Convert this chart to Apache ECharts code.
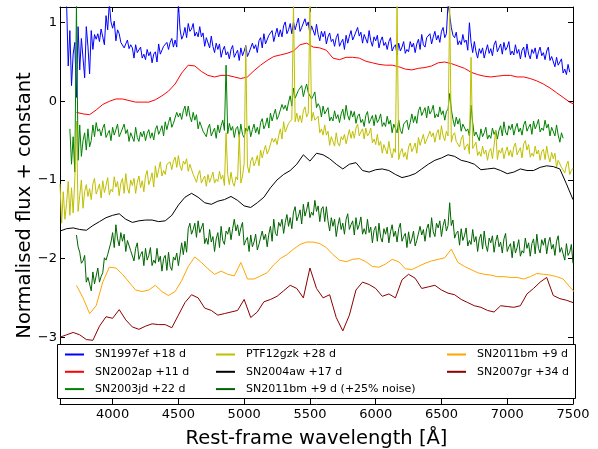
<!DOCTYPE html>
<html><head><meta charset="utf-8">
<script src="https://cdn.jsdelivr.net/npm/echarts@6/dist/echarts.min.js"></script>
<style>html,body{margin:0;padding:0;background:#fff}#c{width:598px;height:449px}</style>
</head><body><div id="c"></div>
<script>
// ---- axis ticks ----
const xTicks = [4000, 4500, 5000, 5500, 6000, 6500, 7000, 7500];
const yTicks = [-3, -2, -1, 0, 1];

// ---- series names ----
const names = ['SN1997ef +18 d', 'SN2002ap +11 d', 'SN2003jd +22 d', 'PTF12gzk +28 d',
  'SN2004aw +17 d', 'SN2011bm +9 d (+25% noise)', 'SN2011bm +9 d', 'SN2007gr +34 d'];

// ---- sampling of each spectrum: first wavelength (Å) and step (Å) ----
const blueStart = 3650, greenStart = 3675, yellowStart = 3600, dgreenStart = 3725; // fine step
const redStart = 3725, blackStart = 3600, orangeStart = 3725, dredStart = 3600;    // coarse step
const fineStep = 12.5, coarseStep = 50;

// ---- flux values (16 values = 200 Å per row for fine spectra) ----
const sn1997ef = [
 1.25, 0.45, 0.9, 0.2, 0.6, 0.75, 0.05, 0.95, 0.4, 0.8, 0.55, 0.3, 0.95, 0.7, 0.35, 0.9,
 0.66, 0.85, 0.79, 0.86, 0.76, 0.92, 0.91, 0.72, 1.09, 0.91, 1.25, 1.01, 0.93, 1.02, 0.77, 0.91,
 0.86, 0.75, 0.77, 0.68, 0.73, 0.78, 0.67, 0.72, 0.68, 0.55, 0.72, 0.62, 0.62, 0.69, 0.55, 0.6,
 0.53, 0.66, 0.58, 0.63, 0.49, 0.6, 0.63, 0.5, 0.73, 0.6, 0.58, 0.7, 0.68, 0.75, 0.66, 0.75,
 0.8, 0.69, 0.78, 0.69, 1.25, 0.92, 0.79, 0.84, 0.94, 0.81, 0.99, 0.89, 0.92, 0.99, 0.83, 0.88,
 0.82, 0.95, 0.82, 0.87, 0.7, 0.81, 0.81, 0.68, 0.83, 0.7, 0.62, 0.74, 0.66, 0.73, 0.56, 0.65,
 0.7, 0.59, 0.63, 0.54, 0.66, 0.71, 0.56, 0.61, 0.65, 0.52, 0.68, 0.58, 0.64, 0.71, 0.57, 0.62,
 0.61, 0.74, 0.67, 0.72, 0.62, 0.77, 0.81, 0.68, 0.86, 0.73, 0.72, 0.84, 0.83, 0.9, 0.76, 0.85,
 0.93, 0.82, 0.91, 0.82, 0.96, 1.01, 0.86, 0.91, 0.99, 0.86, 1.01, 0.91, 0.99, 1.06, 0.89, 0.94,
 0.92, 1.05, 0.96, 1.01, 0.85, 0.96, 0.97, 0.84, 0.98, 0.85, 0.77, 0.89, 0.82, 0.89, 0.73, 0.82,
 0.87, 0.76, 0.79, 0.7, 0.81, 0.86, 0.7, 0.75, 0.79, 0.66, 0.84, 0.74, 0.83, 0.9, 0.78, 0.83,
 0.81, 0.94, 0.83, 0.88, 0.74, 0.85, 0.87, 0.74, 0.9, 0.77, 0.7, 0.82, 0.77, 0.84, 0.68, 0.77,
 0.82, 0.71, 0.75, 0.66, 0.76, 0.81, 0.64, 0.69, 0.72, 0.59, 0.74, 0.64, 0.69, 0.76, 0.61, 0.66,
 0.63, 0.76, 0.69, 0.74, 0.62, 0.73, 0.79, 0.66, 0.85, 0.72, 0.69, 0.81, 0.79, 0.86, 0.73, 0.82,
 0.89, 0.78, 0.84, 0.75, 0.89, 0.94, 0.81, 0.86, 1.25, 1.25, 0.94, 0.84, 0.81, 0.88, 0.72, 0.77,
 0.72, 0.85, 0.75, 0.78, 0.65, 1.0, 0.75, 0.62, 0.76, 0.63, 0.55, 0.67, 0.61, 0.68, 0.55, 0.64,
 0.72, 0.61, 0.67, 0.58, 0.72, 0.77, 0.63, 0.68, 0.73, 0.6, 0.75, 0.65, 0.69, 0.76, 0.59, 0.64,
 0.59, 0.72, 0.61, 0.66, 0.54, 0.65, 0.69, 0.56, 0.73, 0.6, 0.54, 0.66, 0.61, 0.68, 0.54, 0.63,
 0.69, 0.58, 0.62, 0.53, 0.64, 0.69, 0.52, 0.57, 0.57, 0.44, 0.56, 0.46, 0.47, 0.54, 0.36, 0.41,
 0.34, 0.47, 0.37];

const sn2002ap = [
 -0.14, -0.16, -0.17, -0.11, -0.04, 0.0, 0.03, 0.03,
 0.01, -0.01, -0.01, -0.01, 0.02, 0.07, 0.13, 0.22,
 0.36, 0.46, 0.45, 0.38, 0.33, 0.31, 0.33, 0.33,
 0.31, 0.29, 0.31, 0.39, 0.46, 0.52, 0.57, 0.59,
 0.61, 0.64, 0.72, 0.74, 0.69, 0.68, 0.65, 0.55,
 0.53, 0.56, 0.56, 0.55, 0.51, 0.49, 0.47, 0.46,
 0.46, 0.44, 0.41, 0.4, 0.42, 0.43, 0.45, 0.49,
 0.5, 0.48, 0.45, 0.42, 0.37, 0.34, 0.32, 0.31,
 0.32, 0.33, 0.33, 0.31, 0.31, 0.29, 0.26, 0.22,
 0.17, 0.11, 0.05, -0.01, -0.05];

const sn2003jd = [
 -0.35, -0.8, -0.45, -0.9, 1.25, -0.75, -0.3, -0.7, -0.5, -0.4, -0.62, -0.35, -0.58, -0.5, -0.3, -0.45,
 -0.27, -0.38, -0.35, -0.44, -0.34, -0.29, -0.46, -0.41, -0.37, -0.5, -0.33, -0.43, -0.36, -0.29, -0.45, -0.4,
 -0.42, -0.29, -0.41, -0.36, -0.51, -0.4, -0.38, -0.51, -0.33, -0.46, -0.51, -0.39, -0.45, -0.38, -0.5, -0.41,
 -0.36, -0.47, -0.4, -0.49, -0.36, -0.31, -0.42, -0.37, -0.31, -0.44, -0.26, -0.36, -0.27, -0.2, -0.33, -0.28,
 -0.27, -0.14, -0.2, -0.15, -0.23, -0.12, -0.06, -0.19, -0.06, -0.19, -0.26, -0.14, -0.24, -0.17, -0.35, -0.26,
 -0.27, -0.38, -0.36, -0.45, -0.34, -0.29, -0.44, -0.39, -0.34, -0.47, -0.3, -0.4, -0.31, -0.24, -0.37, 0.46,
 -0.41, -0.28, -0.37, -0.32, -0.46, -0.35, -0.32, -0.45, -0.29, -0.42, -0.46, -0.34, -0.38, -0.31, -0.45, -0.36,
 -0.29, -0.4, -0.33, -0.42, -0.27, -0.22, -0.35, -0.3, -0.21, -0.34, -0.15, -0.25, -0.17, -0.1, -0.23, -0.18,
 -0.17, -0.04, -0.1, -0.05, -0.12, -0.01, 0.07, -0.06, 0.17, 0.04, 0.02, 0.14, 0.13, 0.2, 0.06, 0.15,
 0.22, 0.11, 0.12, 0.03, 0.07, 0.12, -0.08, -0.03, -0.07, -0.2, -0.06, -0.16, -0.15, -0.08, -0.25, -0.2,
 -0.25, -0.12, -0.22, -0.17, -0.27, -0.16, -0.1, -0.23, -0.05, -0.18, -0.24, -0.12, -0.2, -0.13, -0.28, -0.19,
 -0.16, -0.27, -0.23, -0.32, -0.18, -0.13, -0.28, -0.23, -0.18, -0.31, -0.17, -0.27, -0.23, -0.16, -0.32, -0.27,
 -0.32, -0.19, -0.29, -0.24, -0.4, -0.29, -0.27, -0.4, -0.24, -0.37, -0.41, -0.29, -0.31, -0.24, -0.36, -0.27,
 -0.16, -0.27, -0.19, -0.28, -0.12, -0.07, -0.18, -0.13, -0.08, -0.21, -0.06, -0.16, -0.12, -0.05, -0.21, -0.16,
 -0.2, -0.07, -0.17, -0.12, -0.24, -0.13, -0.1, 0.1, -0.1, -0.23, -0.32, -0.2, -0.29, -0.22, -0.38, -0.29,
 -0.27, -0.38, -0.35, -0.44, -0.05, -0.27, -0.44, -0.39, -0.37, -0.5, -0.35, -0.45, -0.4, -0.33, -0.48, -0.43,
 -0.47, -0.34, -0.42, -0.37, -0.48, -0.37, -0.31, -0.44, -0.26, -0.39, -0.43, -0.31, -0.36, -0.29, -0.43, -0.34,
 -0.28, -0.39, -0.34, -0.43, -0.3, -0.25, -0.38, -0.33, -0.29, -0.42, -0.25, -0.35, -0.3, -0.23, -0.39, -0.34,
 -0.37, -0.24, -0.34, -0.29, -0.44, -0.33, -0.31, -0.44, -0.3, -0.43, -0.52, -0.4, -0.47];

const ptf12gzk = [
 -1.05, -1.55, -1.15, -1.5, -1.3, -1.02, -1.45, -1.1, -1.42, -1.0, -0.25, -1.4, -1.2, -1.0, -1.36, -1.15,
 -1.06, -1.21, -1.11, -1.25, -1.05, -0.98, -1.18, -1.12, -1.05, -1.23, -1.01, -1.16, -1.07, -0.97, -1.19, -1.12,
 -1.15, -0.96, -1.09, -1.02, -1.2, -1.04, -0.98, -1.17, -0.92, -1.1, -1.17, -1.0, -1.07, -0.98, -1.17, -1.03,
 -0.95, -1.1, -1.01, -1.15, -0.95, -0.88, -1.06, -1.0, -0.91, -1.09, -0.82, -0.97, -0.87, -0.77, -0.95, -0.88,
 -0.93, -0.8, -0.82, -0.77, -0.87, -0.76, -0.71, -0.84, -0.69, -0.82, -0.88, -0.76, -0.8, -0.73, -0.89, -0.8,
 -0.82, -0.93, -0.94, -1.03, -0.93, -0.88, -1.04, -0.99, -0.95, -1.08, -0.93, -1.03, -0.97, -0.9, -1.04, -0.99,
 -1.02, -0.89, -0.99, -0.94, -1.07, -0.4, -0.93, -1.06, -0.9, -1.03, -1.08, -0.96, -1.0, -0.42, -1.04, -0.95,
 -0.79, 0.7, -0.82, -0.91, -0.76, -0.71, -0.82, -0.77, -0.69, -0.82, -0.62, -0.72, -0.63, -0.56, -0.67, -0.62,
 -0.6, -0.47, -0.52, -0.47, -0.55, -0.44, -0.35, -0.48, -0.26, -0.39, -0.4, -0.28, -0.3, -0.23, 1.25, -0.26,
 -0.15, -0.26, -0.18, -0.27, -0.12, -0.07, -0.2, -0.15, 1.25, -0.25, -0.14, -0.24, -0.26, -0.19, -0.4, -0.35,
 -0.43, -0.3, -0.43, -0.38, -0.56, -0.45, -0.44, -0.57, -0.4, -0.53, -0.57, -0.45, -0.49, -0.42, -0.54, -0.45,
 -0.36, -0.47, -0.38, -0.47, -0.34, -0.29, -0.44, -0.39, -0.35, -0.48, -0.34, -0.44, -0.41, -0.34, -0.53, -0.48,
 -0.55, -0.42, -0.56, -0.51, -0.66, -0.55, -0.54, -0.67, -0.51, -0.64, -0.72, -0.6, -0.65, 1.25, -0.74, -0.65,
 -0.6, -0.71, -0.65, -0.74, -0.58, -0.53, -0.64, -0.59, -0.53, -0.66, -0.46, -0.56, -0.49, -0.42, -0.54, -0.49,
 -0.51, -0.38, -0.45, -0.4, -0.52, -0.41, -0.36, -0.49, -0.31, -0.44, -0.5, -0.38, -0.44, 1.25, -0.52, -0.43,
 -0.4, -0.51, -0.49, -0.58, -0.48, -0.43, -0.62, -0.57, -0.54, -0.67, 0.56, -0.6, -0.59, -0.52, -0.69, -0.64,
 -0.7, -0.57, -0.67, -0.62, -0.75, -0.64, -0.6, -0.73, -0.56, -0.37, -0.74, -0.62, -0.66, -0.59, -0.73, -0.64,
 -0.58, -0.69, -0.62, -0.71, -0.58, -0.53, -0.68, -0.63, -0.59, -0.72, -0.54, -0.5, -0.62, -0.55, -0.71, -0.66,
 -0.7, -0.57, -0.67, -0.62, -0.75, -0.64, -0.61, -0.74, -0.57, -0.7, -0.77, -0.65, -0.73, -0.66, -0.84, -0.75,
 -0.73, -0.84, -0.82, -0.91, -0.81, -0.76, -0.93, -0.88, -0.85];

const sn2004aw = [
 -1.65, -1.62, -1.61, -1.63, -1.64, -1.58, -1.53, -1.48,
 -1.45, -1.43, -1.5, -1.54, -1.52, -1.51, -1.51, -1.53,
 -1.52, -1.45, -1.32, -1.22, -1.17, -1.22, -1.29, -1.31,
 -1.27, -1.25, -1.21, -1.26, -1.33, -1.35, -1.29, -1.22,
 -1.1, -1.0, -0.93, -0.88, -0.8, -0.68, -0.76, -0.66,
 -0.68, -0.73, -0.8, -0.86, -0.8, -0.78, -0.88, -0.9,
 -0.87, -0.86, -0.88, -0.93, -0.97, -0.95, -0.92, -0.86,
 -0.8, -0.75, -0.72, -0.68, -0.7, -0.75, -0.77, -0.8,
 -0.87, -0.86, -0.85, -0.88, -0.92, -0.9, -0.86, -0.88,
 -0.88, -0.84, -0.82, -0.83, -0.86, -1.05, -1.25];

const sn2011bmNoisy = [
 -1.7, -1.85, -1.92, -2.06, -2.03, -1.96, -2.3, -2.24, -2.23, -2.41, -2.17, -2.32, -2.22, -2.12, -2.3, -2.23,
 -2.18, -1.99, -2.02, -1.95, -1.95, -1.79, -1.67, -1.86, -1.57, -1.75, -1.84, -1.67, -1.78, -1.69, -1.91, -1.77,
 -1.75, -1.9, -1.89, -2.03, -1.87, -1.8, -2.01, -1.95, -1.91, -2.09, -1.87, -2.02, -1.96, -1.86, -2.09, -2.02,
 -2.06, -1.87, -2.04, -1.97, -2.16, -2.0, -1.96, -2.15, -1.92, -2.1, -2.15, -1.98, -2.02, -1.93, -2.09, -1.95,
 -1.8, -1.95, -1.78, -1.92, -1.62, -1.55, -1.69, -1.63, -1.55, -1.73, -1.52, -1.67, -1.65, -1.55, -1.81, -1.74,
 -1.82, -1.63, -1.79, -1.72, -1.91, -1.75, -1.67, -1.86, -1.59, -1.77, -1.82, -1.65, -1.69, -1.6, -1.76, -1.62,
 -1.5, -1.65, -1.57, -1.71, -1.61, -1.54, -1.83, -1.77, -1.73, -1.91, -1.7, -1.85, -1.79, -1.69, -1.89, -1.82,
 -1.84, -1.65, -1.76, -1.69, -1.85, -1.69, -1.59, -1.78, -1.5, -1.68, -1.71, -1.54, -1.59, -1.5, -1.68, -1.54,
 -1.44, -1.59, -1.48, -1.62, -1.41, -1.34, -1.52, -1.46, -1.38, -1.56, -1.31, -1.46, -1.38, -1.28, -1.48, -1.41,
 -1.45, -1.26, -1.4, -1.33, -1.53, -1.37, -1.34, -1.53, -1.34, -1.52, -1.65, -1.48, -1.59, -1.5, -1.72, -1.58,
 -1.48, -1.63, -1.55, -1.69, -1.5, -1.43, -1.63, -1.57, -1.52, -1.7, -1.48, -1.63, -1.57, -1.47, -1.69, -1.62,
 -1.69, -1.5, -1.67, -1.6, -1.8, -1.64, -1.59, -1.78, -1.55, -1.73, -1.79, -1.62, -1.69, -1.6, -1.8, -1.66,
 -1.57, -1.72, -1.65, -1.79, -1.62, -1.55, -1.78, -1.72, -1.68, -1.86, -1.66, -1.81, -1.75, -1.65, -1.84, -1.77,
 -1.78, -1.59, -1.7, -1.63, -1.78, -1.62, -1.56, -1.73, -1.48, -1.66, -1.72, -1.55, -1.61, -1.52, -1.72, -1.58,
 -1.5, -1.65, -1.58, -1.29, -1.58, -1.51, -1.74, -1.68, -1.65, -1.83, -1.62, -1.77, -1.71, -1.61, -1.84, -1.77,
 -1.82, -1.63, -1.79, -1.72, -1.91, -1.75, -1.69, -1.88, -1.65, -1.83, -1.91, -1.74, -1.8, -1.71, -1.92, -1.78,
 -1.7, -1.85, -1.79, -1.93, -1.75, -1.68, -1.91, -1.85, -1.81, -1.99, -1.78, -1.93, -1.86, -1.76, -1.97, -1.9,
 -1.93, -1.74, -1.87, -1.8, -1.97, -1.81, -1.75, -1.94, -1.69, -1.87, -1.93, -1.76, -1.83, -1.74, -1.94, -1.8,
 -1.73, -1.88, -1.82, -1.96, -1.78, -1.71, -1.92, -1.86, -1.84, -2.02, -1.81, -1.96, -1.92, -1.82, -2.06];

const sn2011bm = [
 -2.34, -2.5, -2.7, -2.6, -2.3, -2.11, -2.12, -2.2,
 -2.3, -2.4, -2.42, -2.4, -2.34, -2.42, -2.47, -2.42,
 -2.28, -2.1, -1.98, -2.05, -2.13, -2.2, -2.16, -2.2,
 -2.22, -2.05, -2.26, -2.26, -2.22, -2.18, -2.08, -2.0,
 -1.95, -1.88, -1.82, -1.79, -1.79, -1.81, -1.86, -1.95,
 -2.02, -2.04, -2.01, -2.0, -2.04, -2.1, -2.11, -2.07,
 -2.01, -2.04, -2.13, -2.14, -2.1, -2.06, -2.03, -2.01,
 -1.99, -1.88, -2.05, -2.1, -2.14, -2.18, -2.2, -2.21,
 -2.23, -2.23, -2.24, -2.24, -2.26, -2.23, -2.19, -2.2,
 -2.21, -2.23, -2.26, -2.36, -2.45];

const sn2007gr = [
 -3.0, -2.97, -2.94, -2.97, -3.03, -3.04, -2.86, -2.74,
 -2.76, -2.65, -2.78, -2.87, -2.9, -2.86, -2.83, -2.84,
 -2.84, -2.88, -2.72, -2.56, -2.46, -2.5, -2.63, -2.66,
 -2.72, -2.7, -2.68, -2.66, -2.52, -2.75, -2.68, -2.55,
 -2.52, -2.48, -2.41, -2.34, -2.38, -2.5, -2.12, -2.38,
 -2.5, -2.46, -2.75, -2.92, -2.72, -2.4, -2.3, -2.33,
 -2.38, -2.48, -2.45, -2.5, -2.27, -2.2, -2.25, -2.38,
 -2.36, -2.34, -2.4, -2.44, -2.46, -2.52, -2.56, -2.6,
 -2.62, -2.66, -2.68, -2.6, -2.61, -2.62, -2.6, -2.45,
 -2.38, -2.3, -2.24, -2.47, -2.51, -2.53, -2.56];

const colors = ['#0000ff', '#ff0000', '#008000', '#bfbf00', '#000000', '#006400', '#ffa500', '#8b0000'];

function build(start, step, vals) {
  return vals.map((v, i) => [start + i * step, v]);
}
const seriesData = [
  build(blueStart, fineStep, sn1997ef),
  build(redStart, coarseStep, sn2002ap),
  build(greenStart, fineStep, sn2003jd),
  build(yellowStart, fineStep, ptf12gzk),
  build(blackStart, coarseStep, sn2004aw),
  build(dgreenStart, fineStep, sn2011bmNoisy),
  build(orangeStart, coarseStep, sn2011bm),
  build(dredStart, coarseStep, sn2007gr)
];

const FONT = 'DejaVu Sans';
const chart = echarts.init(document.getElementById('c'), null, {renderer: 'canvas'});

const legendCommon = {
  orient: 'vertical', padding: 0, itemWidth: 19, itemHeight: 12, itemGap: 6.3,
  itemStyle: {opacity: 0},
  textStyle: {fontFamily: FONT, fontSize: 11, color: '#000', padding: [0, 0, 0, 6]},
  z: 200, selectedMode: false
};

chart.setOption({
  animation: false,
  backgroundColor: '#fff',
  grid: {left: 60, right: 25, top: 7, bottom: 45, containLabel: false, outerBoundsMode: 'none'},
  xAxis: [{
    type: 'value', min: 3600, max: 7500, position: 'bottom',
    name: 'Rest-frame wavelength [Å]', nameLocation: 'middle', nameGap: 25, nameMoveOverlap: false,
    nameTextStyle: {fontFamily: FONT, fontSize: 19.5, color: '#000'},
    axisLine: {show: true, onZero: false, lineStyle: {color: '#000', width: 1}},
    axisTick: {show: true, inside: true, length: 5, customValues: xTicks, lineStyle: {color: '#000'}},
    axisLabel: {show: true, customValues: xTicks, margin: 4, fontFamily: FONT, fontSize: 13, color: '#000',
      formatter: v => String(v)},
    splitLine: {show: false}
  }, {
    type: 'value', min: 3600, max: 7500, position: 'top',
    axisLine: {show: true, onZero: false, lineStyle: {color: '#000', width: 1}},
    axisTick: {show: true, inside: true, length: 5, customValues: xTicks, lineStyle: {color: '#000'}},
    axisLabel: {show: false}, splitLine: {show: false}
  }],
  yAxis: [{
    type: 'value', min: -3.85, max: 1.2, position: 'left',
    name: 'Normalised flux + constant', nameLocation: 'middle', nameGap: 25, nameMoveOverlap: false,
    nameTextStyle: {fontFamily: FONT, fontSize: 19.5, color: '#000'},
    axisLine: {show: true, onZero: false, lineStyle: {color: '#000', width: 1}},
    axisTick: {show: true, inside: true, length: 5, customValues: yTicks, lineStyle: {color: '#000'}},
    axisLabel: {show: true, customValues: yTicks, margin: 3, fontFamily: FONT, fontSize: 13, color: '#000',
      formatter: v => (v < 0 ? '\u2212' + Math.abs(v) : String(v))},
    splitLine: {show: false}
  }, {
    type: 'value', min: -3.85, max: 1.2, position: 'right',
    axisLine: {show: true, onZero: false, lineStyle: {color: '#000', width: 1}},
    axisTick: {show: true, inside: true, length: 5, customValues: yTicks, lineStyle: {color: '#000'}},
    axisLabel: {show: false}, splitLine: {show: false}
  }],
  legend: [
    Object.assign({}, legendCommon, {left: 64, top: 349, data: [names[0], names[1], names[2]]}),
    Object.assign({}, legendCommon, {left: 215, top: 349, data: [names[3], names[4], names[5]]}),
    Object.assign({}, legendCommon, {left: 446, top: 349, data: [names[6], names[7]]})
  ],
  graphic: [{
    type: 'rect', z: 100,
    shape: {x: 57.5, y: 344.5, width: 518, height: 54},
    style: {fill: '#fff', stroke: '#000', lineWidth: 1}
  }],
  series: seriesData.map((d, i) => ({
    name: names[i], type: 'line', data: d, xAxisIndex: 0, yAxisIndex: 0,
    symbol: 'none', showSymbol: false, clip: true,
    color: colors[i], lineStyle: {color: colors[i], width: 1},
    emphasis: {disabled: true}, z: 2 + i * 0.01
  }))
});
</script></body></html>
